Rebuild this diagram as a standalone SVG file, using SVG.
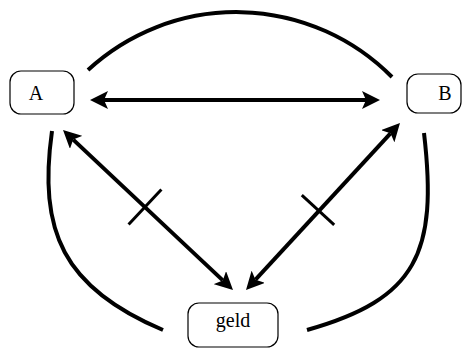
<svg xmlns="http://www.w3.org/2000/svg" width="464" height="349" viewBox="0 0 464 349">
<style>
.box{fill:#fff;stroke:#000;stroke-width:1.2}
.lbl{font-family:"Liberation Serif","Times New Roman",serif;font-size:20px;fill:#000;text-anchor:middle}
.arc{fill:none;stroke:#000;stroke-width:4}
.edge{fill:none;stroke:#000;stroke-width:4;marker-start:url(#ah);marker-end:url(#ah)}
.tick{fill:none;stroke:#000;stroke-width:3}
</style>
<defs>
<marker id="ah" viewBox="0 0 18 18" refX="4" refY="9" markerWidth="18" markerHeight="18" markerUnits="userSpaceOnUse" orient="auto-start-reverse">
<path d="M0,0 L18,9 L0,18 L4,9 z" fill="#000"/>
</marker>
</defs>
<rect width="464" height="349" fill="#fff"/>
<g id="connectors">
<path class="arc" d="M88,70 A219,219 0 0 1 392,77"/>
<path class="arc" d="M52,131 C38,231 63,288 163,330"/>
<path class="arc" d="M424,133 C438,253 417,299 307,330"/>
<line class="edge" x1="104" y1="100" x2="366" y2="100"/>
<line class="edge" x1="73.2" y1="139.6" x2="222.8" y2="280.4"/>
<line class="edge" x1="390.5" y1="133.3" x2="255.5" y2="279.7"/>
<line class="tick" x1="128.6" y1="224.5" x2="161.4" y2="189.5"/>
<line class="tick" x1="301.8" y1="195.1" x2="334.2" y2="224.9"/>
</g>
<g id="node-A">
<rect class="box" x="10" y="71" width="64" height="43" rx="11"/>
<text class="lbl" x="36" y="100">A</text>
</g>
<g id="node-B">
<rect class="box" x="407" y="74" width="54" height="39" rx="11"/>
<text class="lbl" x="445" y="100">B</text>
</g>
<g id="node-geld">
<rect class="box" x="188" y="303" width="90" height="44" rx="11"/>
<text class="lbl" x="233" y="327">geld</text>
</g>
</svg>
